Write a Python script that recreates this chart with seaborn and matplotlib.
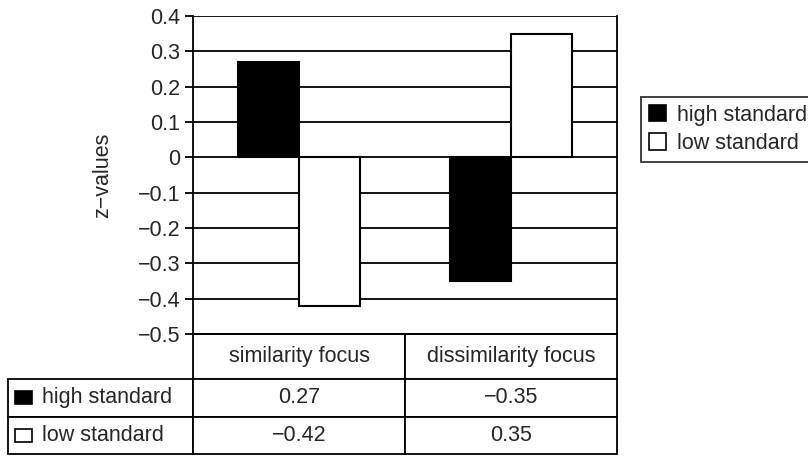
import pandas as pd
import matplotlib.pyplot as plt
import seaborn as sns
from matplotlib.patches import Patch, Rectangle
from matplotlib.table import Table

# Values
categories = ['similarity focus', 'dissimilarity focus']
groups = ['high standard', 'low standard']
high_values = [0.27, -0.35]
low_values = [-0.42, 0.35]
y_ticks = [-0.5, -0.4, -0.3, -0.2, -0.1, 0, 0.1, 0.2, 0.3, 0.4]

FS = 15.5

sns.set_theme(style="white")
plt.rcParams['font.family'] = ['Liberation Sans', 'DejaVu Sans']
plt.rcParams['axes.unicode_minus'] = True

df = pd.DataFrame({
    'focus': categories * 2,
    'standard': [groups[0]] * 2 + [groups[1]] * 2,
    'z': high_values + low_values,
})

fig = plt.figure(figsize=(8.08, 4.58), dpi=100)
ax = fig.add_axes([193 / 808, 1 - 334 / 458, 424 / 808, 318 / 458])

colors = {'high standard': 'black', 'low standard': 'white'}
sns.barplot(data=df, x='focus', y='z', hue='standard', order=categories,
            hue_order=groups, palette=colors, width=0.58, edgecolor='black',
            linewidth=1.5, saturation=1, ax=ax, legend=False)

ax.set_ylim(-0.5, 0.4)
ax.set_xlim(-0.5, 1.5)
ax.set_yticks(y_ticks)
ax.set_yticklabels(['0' if t == 0 else f'{t:.1f}'.replace('-', '\u2212') for t in y_ticks],
                   fontsize=FS)
ax.set_axisbelow(True)
ax.yaxis.grid(True, color='black', linewidth=1.3)
ax.tick_params(axis='y', direction='out', length=6, width=1.3, color='black', pad=3, left=True)
ax.set_xticks([])
ax.set_xlabel('')
ax.set_ylabel('z\u2212values', fontsize=FS, labelpad=18)
for side in ['left', 'right', 'bottom']:
    ax.spines[side].set_color('black')
    ax.spines[side].set_linewidth(1.3)
ax.spines['top'].set_visible(False)

# Data table under the axis, built cell by cell
fmt = lambda v: f'{v:.2f}'.replace('-', '\u2212')
row_values = [high_values, low_values]
row_w, col_w = 185 / 424, 0.5
head_h, row_h = 45 / 318, 37.5 / 318

tbl = Table(ax, bbox=[-row_w, -(head_h + 2 * row_h), row_w + 2 * col_w, head_h + 2 * row_h])
for j, cat in enumerate(categories):
    tbl.add_cell(0, j + 1, col_w, head_h, text=cat, loc='center')
for i, g in enumerate(groups):
    lab = tbl.add_cell(i + 1, 0, row_w, row_h, text=g, loc='left')
    lab.PAD = 34 / 185
    for j, v in enumerate(row_values[i]):
        tbl.add_cell(i + 1, j + 1, col_w, row_h, text=fmt(v), loc='center')
tbl.auto_set_font_size(False)
tbl.set_fontsize(FS)
for cell in tbl.get_celld().values():
    cell.set_edgecolor('black')
    cell.set_linewidth(1.3)
ax.add_table(tbl)

# key squares in the row label cells
sq_w, sq_h = 17 / 424, 13 / 318
for i, g in enumerate(groups):
    y_center = -head_h - (i + 0.5) * row_h
    ax.add_patch(Rectangle((-row_w + 7 / 424, y_center - sq_h / 2), sq_w, sq_h,
                           transform=ax.transAxes, facecolor=colors[g],
                           edgecolor='black', linewidth=1.2, clip_on=False))

handles = [Patch(facecolor=colors[g], edgecolor='black', linewidth=1.2, label=g) for g in groups]
leg = ax.legend(handles=handles, loc='upper left', bbox_to_anchor=(448 / 424, 237 / 318),
                borderaxespad=0, fontsize=FS, frameon=True, fancybox=False,
                handlelength=0.8, handleheight=0.8, handletextpad=0.5,
                labelspacing=0.35, borderpad=0.35)
leg.get_frame().set_edgecolor('black')
leg.get_frame().set_linewidth(1.3)

fig.savefig('out.png', dpi=100)
